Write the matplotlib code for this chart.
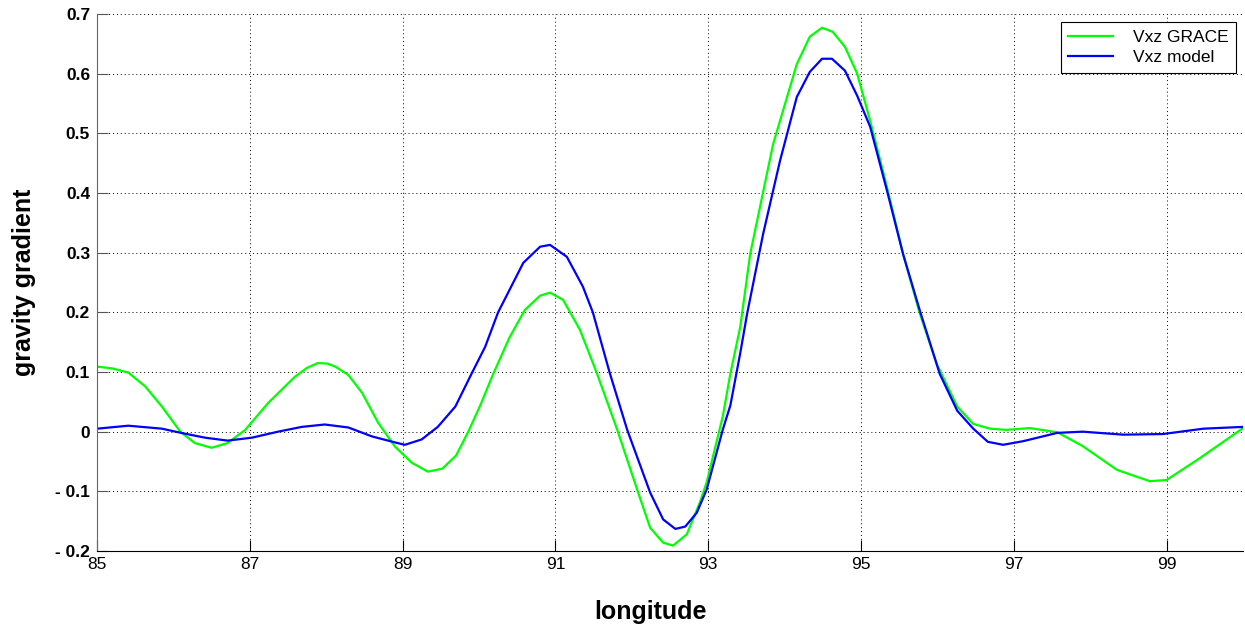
import numpy as np
import matplotlib
matplotlib.use("Agg")
import matplotlib.pyplot as plt

plt.rcParams['font.family'] = ['Liberation Sans', 'DejaVu Sans']

# Vxz GRACE (green)
lon_grace = [85.0, 85.2, 85.41, 85.63, 85.85, 86.09, 86.28, 86.5, 86.71, 86.94, 87.24,
             87.59, 87.75, 87.89, 88.02, 88.12, 88.29, 88.47, 88.68, 88.9, 89.12, 89.33, 89.52,
             89.7, 89.86, 90.02, 90.18, 90.4, 90.6, 90.8, 90.93, 91.1, 91.32,
             91.54, 91.81, 92.07, 92.24, 92.41, 92.54, 92.72, 92.89, 92.98, 93.19,
             93.29, 93.42, 93.55, 93.85, 94.16, 94.33, 94.49, 94.63, 94.79, 94.95,
             95.12, 95.34, 95.55, 95.77, 95.99, 96.26, 96.47, 96.69, 96.9, 97.21,
             97.57, 97.9, 98.35, 98.78, 99.0, 99.44, 100.0]
vxz_grace = [0.109, 0.106, 0.099, 0.076, 0.042, 0.0, -0.019, -0.027, -0.019, 0.003, 0.048,
             0.092, 0.107, 0.115, 0.114, 0.109, 0.095, 0.065, 0.015, -0.025, -0.052, -0.067, -0.062,
             -0.04, 0.0, 0.045, 0.095, 0.158, 0.204, 0.228, 0.233, 0.221, 0.171,
             0.099, 0.003, -0.097, -0.161, -0.186, -0.191, -0.172, -0.119, -0.085, 0.025,
             0.097, 0.176, 0.298, 0.482, 0.616, 0.662, 0.677, 0.670, 0.645, 0.600,
             0.521, 0.410, 0.298, 0.198, 0.114, 0.042, 0.013, 0.005, 0.003, 0.006,
             -0.001, -0.024, -0.064, -0.083, -0.081, -0.044, 0.006]

# Vxz model (blue)
lon_model = [85.0, 85.41, 85.85, 86.1, 86.41, 86.71, 87.03, 87.37, 87.68, 87.98,
             88.29, 88.6, 88.9, 89.03, 89.25, 89.46, 89.69, 89.91, 90.08, 90.25,
             90.58, 90.8, 90.93, 91.15, 91.36, 91.49, 91.71, 91.94, 92.24, 92.41,
             92.57, 92.7, 92.85, 92.98, 93.19, 93.29, 93.42, 93.51, 93.72, 93.94,
             94.16, 94.33, 94.49, 94.62, 94.79, 94.95, 95.12, 95.34, 95.55, 95.77,
             96.03, 96.26, 96.47, 96.66, 96.86, 97.12, 97.57, 97.9, 98.43, 98.95,
             99.48, 100.0]
vxz_model = [0.005, 0.01, 0.005, -0.002, -0.01, -0.015, -0.01, 0.0, 0.008, 0.012,
             0.007, -0.008, -0.018, -0.022, -0.013, 0.008, 0.042, 0.099, 0.142, 0.2,
             0.283, 0.31, 0.313, 0.293, 0.243, 0.2, 0.099, 0.003, -0.102, -0.147,
             -0.163, -0.159, -0.136, -0.097, 0.003, 0.044, 0.132, 0.198, 0.332, 0.454,
             0.561, 0.603, 0.625, 0.625, 0.605, 0.563, 0.511, 0.404, 0.298, 0.203,
             0.097, 0.035, 0.005, -0.017, -0.022, -0.016, -0.002, 0.0, -0.005, -0.004,
             0.005, 0.008]

x_ticks = [85, 87, 89, 91, 93, 95, 97, 99]
y_ticks = [-0.2, -0.1, 0, 0.1, 0.2, 0.3, 0.4, 0.5, 0.6, 0.7]
y_tick_labels = ['- 0.2', '- 0.1', '0', '0.1', '0.2', '0.3', '0.4', '0.5', '0.6', '0.7']

fig = plt.figure(figsize=(12.45, 6.3), dpi=100)
ax = fig.add_axes([97/1245, 1 - 551/630, 1146/1245, 537/630])

ax.plot(lon_grace, vxz_grace, color=(0, 1, 0), lw=1.6, label='Vxz GRACE')
ax.plot(lon_model, vxz_model, color=(0, 0, 1), lw=1.6, label='Vxz model')

ax.set_xlim(85, 100)
ax.set_ylim(-0.2, 0.7)
ax.set_xticks(x_ticks)
ax.set_yticks(y_ticks)
ax.set_yticklabels(y_tick_labels)

ax.grid(True, color='black', linestyle=(0, (1, 3)), linewidth=0.7)
ax.set_axisbelow(True)

ax.spines['top'].set_visible(False)
ax.spines['right'].set_visible(False)
ax.spines['left'].set_color('#666666')
ax.spines['bottom'].set_color('black')

ax.tick_params(axis='x', direction='in', length=8, width=0.8, colors='black',
               labelsize=12.5, pad=4)
ax.tick_params(axis='y', direction='in', length=8, width=0.8, color='#555555',
               labelcolor='black', labelsize=12.5, pad=5)
for lab in ax.get_yticklabels():
    lab.set_fontweight('bold')

ax.set_xlabel('longitude', fontsize=18, fontweight='bold')
ax.xaxis.set_label_coords((650 - 97) / 1146, (551 - 612) / 537)
ax.xaxis.label.set_va('center')
ax.set_ylabel('gravity gradient', fontsize=18, fontweight='bold')
ax.yaxis.set_label_coords((24 - 97) / 1146, (551 - 282) / 537)
ax.yaxis.label.set_va('center')

leg = ax.legend(loc='upper right', bbox_to_anchor=(1 - 7/1146, 1 - 8/537),
                fontsize=12.5, fancybox=False, framealpha=1, edgecolor='black',
                handlelength=2.6, borderpad=0.45, labelspacing=0.3,
                handletextpad=1.1, borderaxespad=0)
leg.get_frame().set_linewidth(0.8)

fig.savefig('out.png', dpi=100)
